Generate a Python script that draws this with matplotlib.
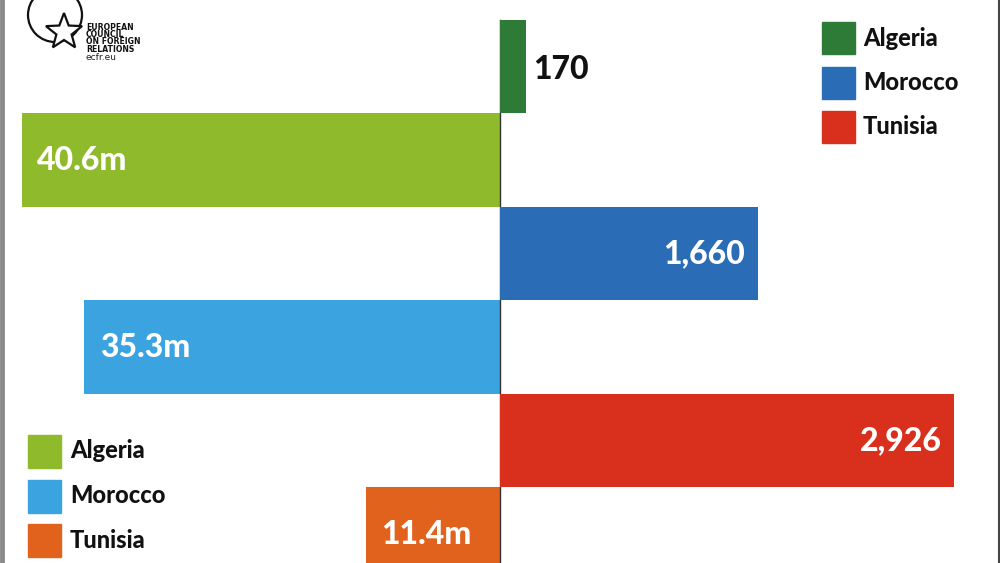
import matplotlib
matplotlib.use("Agg")
import matplotlib.pyplot as plt
from matplotlib.patches import Circle, Polygon, Rectangle
import numpy as np

plt.rcParams['font.family'] = ['Lato', 'DejaVu Sans']

countries = ["Algeria", "Morocco", "Tunisia"]
# right side: counts, left side: millions
counts = [170, 1660, 2926]
count_labels = ["170", "1,660", "2,926"]
millions = [40.6, 35.3, 11.4]
million_labels = ["40.6m", "35.3m", "11.4m"]

count_colors = ["#2e7b38", "#2a6cb6", "#d9301e"]
million_colors = ["#8fba2b", "#3ca3e1", "#e0621c"]

W, H = 1000, 563
fig = plt.figure(figsize=(10, 5.63), dpi=100)
fig.patch.set_facecolor("white")

axL = fig.add_axes([0, 0, 0.5, 1])
axR = fig.add_axes([0.5, 0, 0.5, 1])

rows_right = [0, 2, 4]
rows_left = [1, 3, 5]
ylim = (5.31, -0.714)

axR.barh(rows_right, counts, height=1.0, color=count_colors)
axL.barh(rows_left, millions, height=1.0, color=million_colors)

axR.set_xlim(0, 3222)
axL.set_xlim(42.47, 0)
for ax in (axL, axR):
    ax.set_ylim(*ylim)
    ax.axis("off")

# center axis line
axL.plot([0, 0], [-0.5, 5.6], color="#333333", lw=1.0, clip_on=False, zorder=5)

lab_kw = dict(va="center", fontsize=23, fontweight="black")
for r, v, lab in zip(rows_right, counts, count_labels):
    if v < 500:
        axR.annotate(lab, (v, r), xytext=(5, -2), textcoords="offset points",
                     ha="left", color="#111111", **lab_kw)
    else:
        axR.annotate(lab, (v, r), xytext=(-9, 0), textcoords="offset points",
                     ha="right", color="white", **lab_kw)

for r, v, lab in zip(rows_left, millions, million_labels):
    axL.annotate(lab, (v, r), xytext=(11, 0), textcoords="offset points",
                 ha="left", color="white", **lab_kw)

# overlay in pixel coordinates for legends, borders and logo
ov = fig.add_axes([0, 0, 1, 1], facecolor="none")
ov.set_xlim(0, W)
ov.set_ylim(H, 0)
ov.axis("off")

for i, (name, c) in enumerate(zip(countries, count_colors)):
    y0 = 22 + i * 44.5
    ov.add_patch(Rectangle((822, y0), 33, 32, color=c))
    ov.text(863, y0 + 16, name, ha="left", va="center",
            fontsize=17, fontweight="black", color="#111111")

for i, (name, c) in enumerate(zip(countries, million_colors)):
    y0 = 435 + i * 44.5
    ov.add_patch(Rectangle((28, y0), 33, 33, color=c))
    ov.text(70, y0 + 16, name, ha="left", va="center",
            fontsize=17, fontweight="black", color="#111111")

# border lines
ov.plot([2, 2], [0, H], color="#8a8a8a", lw=3.5)
ov.plot([998.5, 998.5], [0, H], color="#444444", lw=1.5)

# ECFR logo
ov.add_patch(Circle((55, 15), 27, fill=False, ec="#111111", lw=1.6))
cx, cy, ro, ri = 64, 32, 19, 8
ang = np.pi / 2 + np.arange(10) * np.pi / 5
rad = np.where(np.arange(10) % 2 == 0, ro, ri)
star = np.column_stack([cx + rad * np.cos(ang), cy - rad * np.sin(ang)])
ov.add_patch(Polygon(star, closed=True, fc="white", ec="#111111", lw=1.6))
logo_lines = ["EUROPEAN", "COUNCIL", "ON FOREIGN", "RELATIONS"]
for i, t in enumerate(logo_lines):
    ov.text(86, 27 + i * 7.4, t, ha="left", va="center", fontsize=5.6,
            fontweight="bold", color="#111111", family="DejaVu Sans")
ov.text(86, 57, "ecfr.eu", ha="left", va="center", fontsize=6.5,
        color="#222222", family="DejaVu Sans")

fig.savefig("out.png", dpi=100)
